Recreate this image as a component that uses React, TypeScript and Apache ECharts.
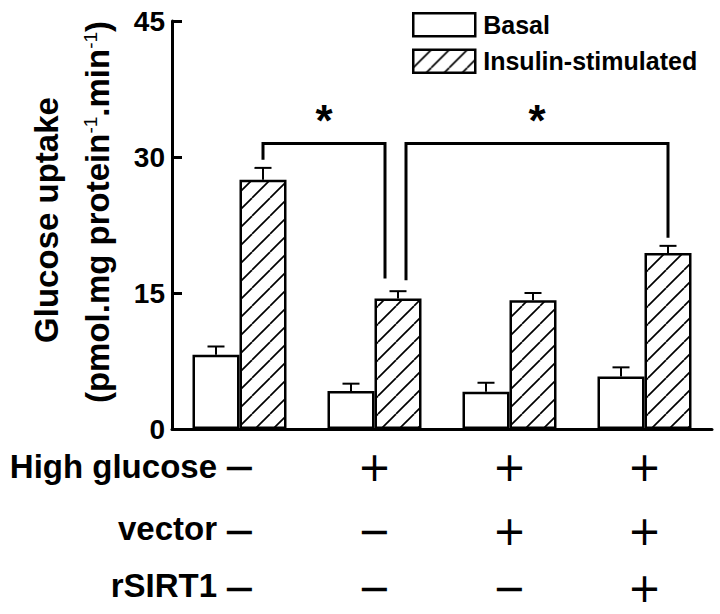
import React, { useEffect, useRef } from 'react';
import * as echarts from 'echarts';

// ---- data ----
const categories = ['C1', 'C2', 'C3', 'C4'];
const seriesNames = ['Basal', 'Insulin-stimulated'];
const basalValues = [8.2, 4.2, 4.1, 5.8];
const basalErrors = [0.9, 0.8, 1.0, 1.0];
const insulinValues = [27.5, 14.4, 14.2, 19.4];
const insulinErrors = [1.3, 0.8, 0.8, 0.8];
const yMin = 0;
const yMax = 45;
const yInterval = 15;
const rowLabels = ['High glucose', 'vector', 'rSIRT1'];
const highGlucoseSigns = ['\u2212', '+', '+', '+'];
const vectorSigns = ['\u2212', '\u2212', '+', '+'];
const rSIRT1Signs = ['\u2212', '\u2212', '\u2212', '+'];
const bracketFrom = [0, 1];
const bracketTo = [1, 3];
const bracketLevel = [31.5, 31.5];
const bracketLeftEnd = [29.7, 16.4];
const bracketRightEnd = [16.6, 21.1];
const bracketMarks = ['*', '*'];

// ---- style constants ----
const FONT = '"Liberation Sans", Arial, Helvetica, sans-serif';
const BAR_W = 47;
const HALF = BAR_W / 2;
const CAP = 8.5;
const bracketLeftOffset = [HALF, HALF + 8];
const bracketRightOffset = [HALF - 13, HALF];
const rowY = [467, 531, 588];
const rowLabelY = [466, 528, 585];

function makeHatch() {
  const s = 18;
  const c = document.createElement('canvas');
  c.width = s;
  c.height = s;
  const ctx = c.getContext('2d')!;
  ctx.fillStyle = '#fff';
  ctx.fillRect(0, 0, s, s);
  ctx.strokeStyle = '#000';
  ctx.lineWidth = 1.7;
  for (let k = -1; k <= 1; k++) {
    ctx.beginPath();
    ctx.moveTo(k * s, s);
    ctx.lineTo(k * s + s, 0);
    ctx.stroke();
  }
  return { image: c, repeat: 'repeat', imageWidth: s, imageHeight: s };
}

export default function App() {
  const ref = useRef<HTMLDivElement>(null);
  useEffect(() => {
    if (!ref.current) return;
    const chart = echarts.init(ref.current, undefined, { renderer: 'svg' });
    const hatch = makeHatch();
    const signRows = [highGlucoseSigns, vectorSigns, rSIRT1Signs];

    const errData: number[][] = [];
    basalValues.forEach((v, i) => errData.push([i, v, basalErrors[i], -1]));
    insulinValues.forEach((v, i) => errData.push([i, v, insulinErrors[i], 1]));

    const bracketData = bracketFrom.map((f, i) => [f, bracketTo[i], bracketLevel[i], bracketLeftEnd[i], bracketRightEnd[i]]);

    const signData: number[][] = [];
    signRows.forEach((row, r) => row.forEach((_, c) => signData.push([c, 0, r])));

    const option: any = {
      animation: false,
      grid: { left: 172, right: 8, top: 21, bottom: 185 },
      legend: {
        orient: 'vertical',
        left: 412,
        top: 12,
        padding: 0,
        itemWidth: 62,
        itemHeight: 23,
        itemGap: 11,
        selectedMode: false,
        icon: 'rect',
        itemStyle: { borderColor: '#000', borderWidth: 2.5 },
        textStyle: { fontSize: 25, fontWeight: 'bold', color: '#000', fontFamily: FONT, padding: [0, 0, 0, 3] },
        data: seriesNames,
      },
      xAxis: {
        type: 'category',
        data: categories,
        axisLine: { lineStyle: { color: '#000', width: 3 } },
        axisTick: { inside: true, length: 9, interval: 0, lineStyle: { color: '#000', width: 3 } },
        axisLabel: { show: false },
        splitLine: { show: false },
      },
      yAxis: {
        type: 'value',
        min: yMin,
        max: yMax,
        interval: yInterval,
        axisLine: { show: true, lineStyle: { color: '#000', width: 3 } },
        axisTick: { show: true, inside: true, length: 10, lineStyle: { color: '#000', width: 3 } },
        axisLabel: { fontSize: 28, fontWeight: 'bold', color: '#000', fontFamily: FONT, margin: 7 },
        splitLine: { show: false },
      },
      series: [
        {
          name: seriesNames[0],
          type: 'bar',
          data: basalValues,
          barWidth: BAR_W,
          barGap: '0%',
          itemStyle: { color: '#fff', borderColor: '#000', borderWidth: 2.5 },
        },
        {
          name: seriesNames[1],
          type: 'bar',
          data: insulinValues,
          barWidth: BAR_W,
          barGap: '0%',
          itemStyle: { color: hatch, borderColor: '#000', borderWidth: 2.5 },
        },
        {
          type: 'custom',
          z: 5,
          data: errData,
          encode: { x: 0, y: 1 },
          renderItem: (params: any, api: any) => {
            const cat = api.value(0);
            const v = api.value(1);
            const e = api.value(2);
            const side = api.value(3);
            const base = api.coord([cat, v]);
            const top = api.coord([cat, v + e]);
            const x = base[0] + side * HALF;
            const st = { stroke: '#000', lineWidth: 2 };
            return {
              type: 'group',
              children: [
                { type: 'line', shape: { x1: x, y1: base[1], x2: x, y2: top[1] }, style: st },
                { type: 'line', shape: { x1: x - CAP, y1: top[1], x2: x + CAP, y2: top[1] }, style: st },
              ],
            };
          },
        },
        {
          type: 'custom',
          z: 6,
          data: bracketData,
          encode: { x: 0, y: 2 },
          renderItem: (params: any, api: any) => {
            const i = params.dataIndex;
            const f = api.value(0);
            const t = api.value(1);
            const lvl = api.value(2);
            const le = api.value(3);
            const re = api.value(4);
            const xl = api.coord([f, lvl])[0] + bracketLeftOffset[i];
            const xr = api.coord([t, lvl])[0] + bracketRightOffset[i];
            const yl = api.coord([f, lvl])[1];
            const yle = api.coord([f, le])[1];
            const yre = api.coord([t, re])[1];
            const st = { stroke: '#000', lineWidth: 3, fill: null };
            return {
              type: 'group',
              children: [
                { type: 'polyline', shape: { points: [[xl, yle], [xl, yl], [xr, yl], [xr, yre]] }, style: st },
                {
                  type: 'text',
                  style: {
                    text: bracketMarks[i],
                    x: (xl + xr) / 2,
                    y: yl - 23,
                    align: 'center',
                    verticalAlign: 'middle',
                    font: 'bold 44px ' + FONT,
                    fill: '#000',
                  },
                },
              ],
            };
          },
        },
        {
          type: 'custom',
          z: 6,
          data: signData,
          encode: { x: 0, y: 1 },
          renderItem: (params: any, api: any) => {
            const c = api.value(0);
            const r = api.value(2);
            const x = api.coord([c, 0])[0];
            return {
              type: 'text',
              style: {
                text: signRows[r][c],
                x,
                y: rowY[r],
                align: 'center',
                verticalAlign: 'middle',
                font: '40px "DejaVu Sans", sans-serif',
                lineHeight: 30,
                fill: '#000',
              },
            };
          },
        },
      ],
      graphic: [
        ...rowLabels.map((t, r) => ({
          type: 'text',
          x: 217,
          y: rowLabelY[r],
          style: { text: t, align: 'right', verticalAlign: 'middle', font: 'bold 33px ' + FONT, fill: '#000' },
        })),
        {
          type: 'text',
          x: 46,
          y: 220,
          rotation: Math.PI / 2,
          style: { text: 'Glucose uptake', align: 'center', verticalAlign: 'middle', font: 'bold 33px ' + FONT, fill: '#000' },
        },
        {
          type: 'text',
          x: 97,
          y: 212,
          rotation: Math.PI / 2,
          style: {
            text: '(pmol.mg protein{sup|-1}.min{sup|-1})',
            align: 'center',
            verticalAlign: 'middle',
            font: 'bold 33px ' + FONT,
            fill: '#000',
            rich: {
              sup: { fontSize: 19, fontWeight: 'normal', fontFamily: FONT, verticalAlign: 'top', fill: '#000' },
            },
          },
        },
      ],
    };
    chart.setOption(option);
    return () => chart.dispose();
  }, []);
  return <div ref={ref} style={{ position: 'fixed', left: 0, top: 0, width: 720, height: 614, background: '#fff' }} />;
}
